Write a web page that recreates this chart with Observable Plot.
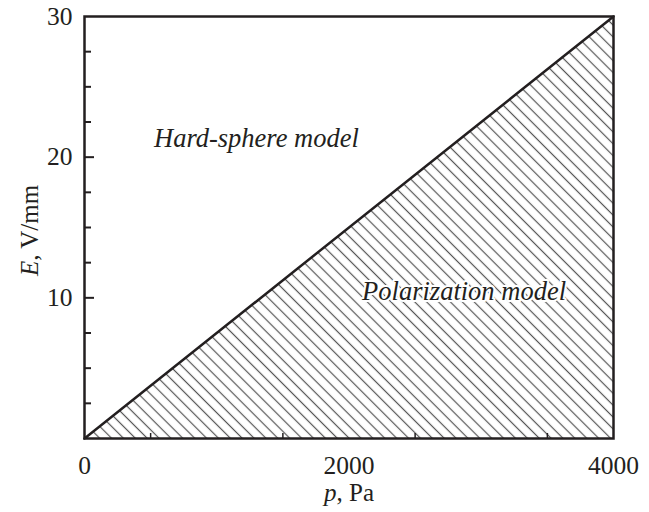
<!DOCTYPE html>
<html>
<head>
<meta charset="utf-8">
<script src="https://cdn.jsdelivr.net/npm/d3@7"></script>
<script src="https://cdn.jsdelivr.net/npm/@observablehq/plot@0.6"></script>
<style>
  body { margin: 0; background: #fff; }
  svg { display: block; }
  #chart svg, #chart svg text { font-family: "Liberation Serif", "Times New Roman", serif !important; }
</style>
</head>
<body>
<div id="chart"></div>
<script>
// Boundary between the two regions: E (V/mm) versus p (Pa)
const pressure = [0, 4000];
const field = [0, 30];

// Axis ticks
const xTickLabels = [0, 2000, 4000];
const xMinorTicks = [500, 1500, 2500, 3500];
const yTickLabels = [10, 20, 30];
const yMajorTicks = [10, 20];
const yMinorTicks = [2.5, 5, 7.5, 12.5, 15, 17.5, 22.5, 25, 27.5];

// Region annotations
const annotationText = ["Hard-sphere model", "Polarization model"];
const annotationP = [1300, 2870];
const annotationE = [21.3, 10.45];

const xTitle = "p, Pa";
const yTitle = "E, V/mm";

const boundary = pressure.map((p, i) => ({p, E: field[i]}));
const annotations = annotationText.map((t, i) => ({text: t, p: annotationP[i], E: annotationE[i]}));

const ink = "#231f20";
const font = "Liberation Serif";
const frameW = 649 - 84 - 36;
const frameH = 512 - 16 - 74;

const chart = Plot.plot({
  width: 649,
  height: 512,
  marginLeft: 84,
  marginRight: 36,
  marginTop: 16,
  marginBottom: 74,
  style: {background: "#fff", color: ink, fontFamily: font, fontSize: "25px"},
  x: {domain: [0, 4000], axis: null},
  y: {domain: [0, 30], axis: null},
  marks: [
    Plot.areaY(boundary, {x: "p", y: "E", fill: "url(#hatch)"}),
    Plot.line(boundary, {x: "p", y: "E", stroke: ink, strokeWidth: 2.5}),
    Plot.text(annotations, {x: "p", y: "E", text: "text", fontFamily: font, fontStyle: "italic", fontSize: 26.5, fill: ink, stroke: "white", strokeWidth: 4}),
    Plot.tickX(xMinorTicks, {x: d => d, insetTop: frameH - 5, stroke: ink, strokeWidth: 1.5}),
    Plot.tickY(yMajorTicks, {y: d => d, insetRight: frameW - 10, stroke: ink, strokeWidth: 2}),
    Plot.tickY(yMinorTicks, {y: d => d, insetRight: frameW - 7, stroke: ink, strokeWidth: 2}),
    Plot.frame({stroke: ink, strokeWidth: 2.5}),
    Plot.axisX(xTickLabels, {tickSize: 0, tickPadding: 17, fontSize: 25.5, fontFamily: font, tickFormat: d => String(d), label: null}),
    Plot.axisY(yTickLabels, {tickSize: 0, tickPadding: 12, fontSize: 25.5, fontFamily: font, tickFormat: d => String(d), label: null}),
    Plot.text([xTitle], {text: d => d, frameAnchor: "bottom", dy: 62, lineAnchor: "bottom", textAnchor: "middle", fontSize: 25, fontFamily: font, fill: ink}),
    Plot.text([yTitle], {text: d => d, frameAnchor: "left", dx: -47, dy: 3, rotate: -90, lineAnchor: "bottom", textAnchor: "middle", fontSize: 25, fontFamily: font, fill: ink})
  ]
});

document.getElementById("chart").appendChild(chart);

const svgEl = chart.tagName.toLowerCase() === "svg" ? chart : chart.querySelector("svg");
const svg = d3.select(svgEl);

// Hatch pattern for the polarization region
const step = 8.4;
const defs = svg.insert("defs", ":first-child");
const pat = defs.append("pattern")
  .attr("id", "hatch")
  .attr("patternUnits", "userSpaceOnUse")
  .attr("width", step)
  .attr("height", step)
  .attr("patternTransform", "rotate(45)");
pat.append("rect").attr("width", step).attr("height", step).attr("fill", "white");
pat.append("line")
  .attr("x1", 0).attr("x2", step)
  .attr("y1", step / 2).attr("y2", step / 2)
  .attr("stroke", "#555").attr("stroke-width", 1.2);

// Italic variable names in axis titles
svg.selectAll("text").each(function () {
  const t = this.textContent;
  if (t === xTitle || t === yTitle) {
    const first = t[0];
    const rest = t.slice(1);
    const sel = d3.select(this);
    sel.text(null);
    sel.append("tspan").attr("font-style", "italic").text(first);
    sel.append("tspan").text(rest);
  }
});
</script>
</body>
</html>
